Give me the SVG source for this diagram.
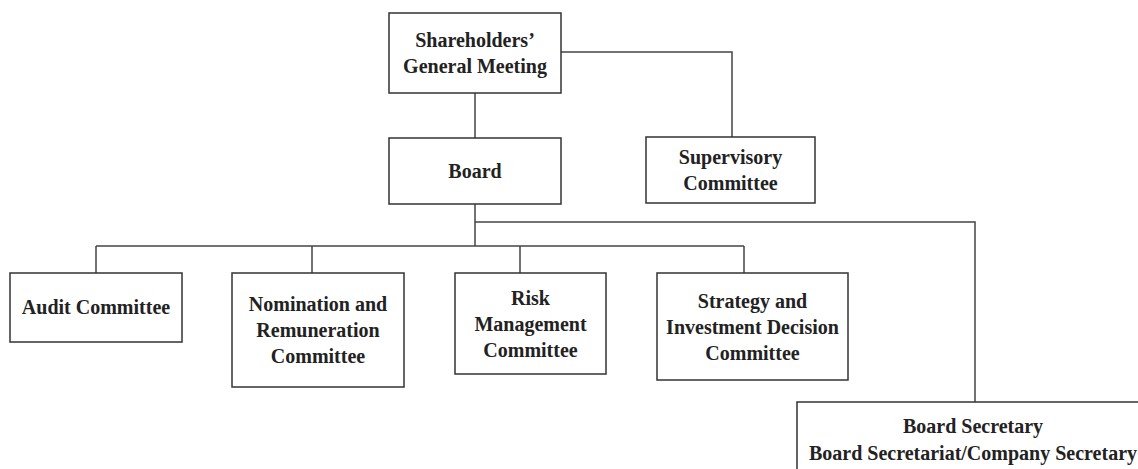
<svg xmlns="http://www.w3.org/2000/svg" width="1138" height="469" viewBox="0 0 1138 469">
<style>
.box{fill:#fff;stroke:#333;stroke-width:1.5}
.ln{fill:none;stroke:#444;stroke-width:1.5}
text{font-family:"Liberation Serif","Times New Roman",serif;font-weight:bold;font-size:20px;fill:#222;text-anchor:middle}
</style>
<rect width="1138" height="469" fill="#fff"/>
<g id="connectors">
<path class="ln" d="M475 93V138"/>
<path class="ln" d="M561 52H732V137"/>
<path class="ln" d="M475 204V246"/>
<path class="ln" d="M96 246H744"/>
<path class="ln" d="M96 246V273M312 246V273M520 246V273M744 246V273"/>
<path class="ln" d="M475 222H975V402"/>
</g>
<g id="sgm">
<rect class="box" x="389" y="13" width="172" height="80"/>
<text x="475" y="47">Shareholders’</text>
<text x="475" y="73">General Meeting</text>
</g>
<g id="board">
<rect class="box" x="389" y="138" width="172" height="66"/>
<text x="475" y="178">Board</text>
</g>
<g id="supervisory">
<rect class="box" x="646" y="137" width="169" height="66"/>
<text x="730.5" y="164">Supervisory</text>
<text x="730.5" y="190">Committee</text>
</g>
<g id="audit">
<rect class="box" x="10" y="273" width="172" height="69"/>
<text x="96" y="314">Audit Committee</text>
</g>
<g id="nomination">
<rect class="box" x="232" y="273" width="172" height="114"/>
<text x="318" y="311">Nomination and</text>
<text x="318" y="337">Remuneration</text>
<text x="318" y="363">Committee</text>
</g>
<g id="risk">
<rect class="box" x="455" y="273" width="151" height="101"/>
<text x="530.5" y="304.5">Risk</text>
<text x="530.5" y="330.5">Management</text>
<text x="530.5" y="356.5">Committee</text>
</g>
<g id="strategy">
<rect class="box" x="657" y="273" width="191" height="107"/>
<text x="752.5" y="307.5">Strategy and</text>
<text x="752.5" y="333.5">Investment Decision</text>
<text x="752.5" y="359.5">Committee</text>
</g>
<g id="secretary">
<rect class="box" x="797" y="402" width="400" height="100"/>
<text x="973" y="433">Board Secretary</text>
<text x="973" y="460">Board Secretariat/Company Secretary</text>
</g>
</svg>
